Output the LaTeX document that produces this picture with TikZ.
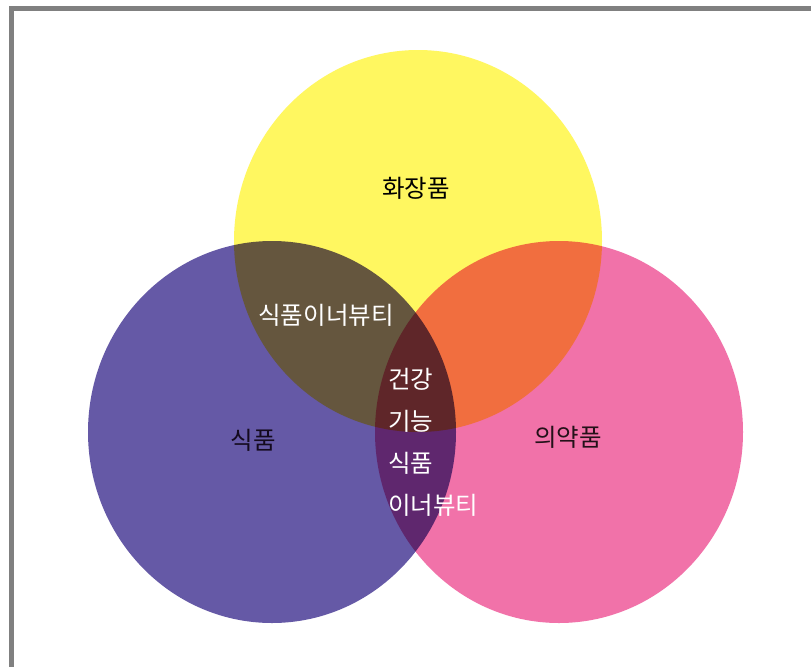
\documentclass[tikz,border=0pt]{standalone}
\usepackage{fontspec}
\newfontfamily\kr{Noto Sans CJK KR}
\definecolor{bordergray}{RGB}{128,128,128}
\definecolor{vyellow}{RGB}{255,247,96}
\definecolor{vblue}{RGB}{101,89,166}
\definecolor{vpink}{RGB}{241,114,169}
\definecolor{darktext}{RGB}{20,10,30}
\tikzset{
  venn/.style={draw=none},
  lbl/.style={font=\kr\fontsize{24.5}{28}\selectfont, inner sep=0pt},
}
\begin{document}
\begin{tikzpicture}[x=1pt,y=-1pt]
\useasboundingbox (0,0) rectangle (811,667);
\fill[white] (0,0) rectangle (811,667);
\fill[bordergray] (9,6) rectangle (811,11);
\fill[bordergray] (9,6) rectangle (14,667);
\begin{scope}[blend group=multiply]
  \fill[venn, vyellow] (418,241) ellipse[x radius=184pt, y radius=191pt];
  \fill[venn, vblue] (272,432) ellipse[x radius=184pt, y radius=191pt];
  \fill[venn, vpink] (559,432) ellipse[x radius=184pt, y radius=191pt];
\end{scope}
\node[lbl, text=black] (cosm) at (416,188) {화장품};
\node[lbl, text=white] (foodbeauty) at (326,315) {식품이너뷰티};
\node[lbl, text=darktext] (food) at (253,440) {식품};
\node[lbl, text=black!85!vpink] (medic) at (568,437) {의약품};
\node[lbl, text=white, anchor=west, align=left, font=\kr\fontsize{24.5}{42}\selectfont] (center) at (388,442) {건강\\기능\\식품\\이너뷰티};
\end{tikzpicture}
\end{document}
